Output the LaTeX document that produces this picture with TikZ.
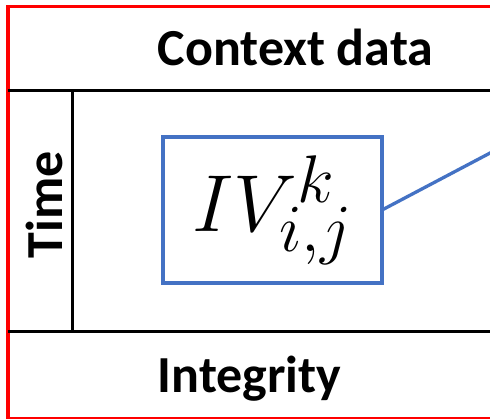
\documentclass[tikz,border=0pt]{standalone}
\usepackage{fontspec}
\setmainfont{Carlito}
\begin{document}
\begin{tikzpicture}[x=1pt,y=-1pt,
  frameline/.style={draw=red,line width=3.6pt},
  rule/.style={draw=black,line width=3.6pt},
  % the box is scaled as a whole (3.25x), so its sizes are given pre-scaled
  bluebox/.style={draw=ivblue,scale=3.25,line width=3.3pt,outer sep=0pt,
    minimum width=67.4pt,minimum height=44.9pt,inner sep=0pt,font=\Huge},
  bluelink/.style={draw=ivblue,line width=3.3pt},
  headtext/.style={font=\fontsize{52}{60}\selectfont\bfseries,inner sep=0pt,anchor=base}]
\definecolor{ivblue}{HTML}{4472C4}
\useasboundingbox (0,0) rectangle (490,418);
\clip (0,0) rectangle (490,418);
\fill[white] (0,0) rectangle (490,418);

% outer red frame (right side runs off the page)
\draw[frameline] (8,6.5) rectangle (520,418.5);

% row and column rules
\coordinate (tl) at (8,90.5);
\coordinate (tr) at (495,90.5);
\coordinate (bl) at (8,331.5);
\coordinate (br) at (495,331.5);
\coordinate (vt) at (72.5,90.5);
\coordinate (vb) at (72.5,331.5);
\draw[rule] (tl) -- (tr);
\draw[rule] (bl) -- (br);
\draw[rule] (vt) -- (vb);

% labels
\node[headtext] (ctx) at (295.5,65) {Context data};
\node[headtext] (integ) at (249.5,392) {Integrity};
\node[headtext,rotate=90] (time) at (62,205) {Time};

% integrity-value box and its link
\node[bluebox] (iv) at (272.5,210) {$IV^{k}_{i,j}$};
\coordinate (linkend) at (510,142.5);
\draw[bluelink] (iv.east) -- (linkend);
\end{tikzpicture}
\end{document}
